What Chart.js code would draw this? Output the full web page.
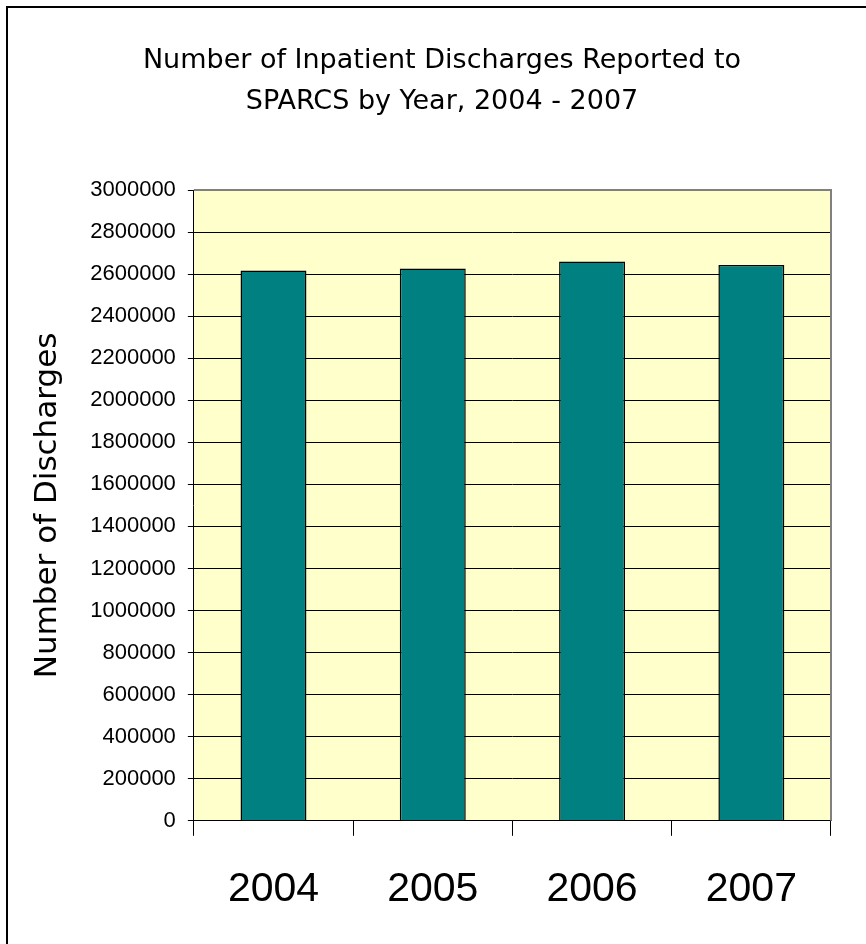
<!DOCTYPE html>
<html>
<head>
<meta charset="utf-8">
<script src="https://cdn.jsdelivr.net/npm/chart.js@4"></script>
<style>
  html, body { margin: 0; padding: 0; background: #fff; }
  #wrap { width: 866px; height: 944px; position: relative; }
</style>
</head>
<body>
<div id="wrap"><canvas id="myChart"></canvas></div>
<script>
var years = ['2004', '2005', '2006', '2007'];
var discharges = [2617000, 2627000, 2660000, 2643000];
var yTicks = [0, 200000, 400000, 600000, 800000, 1000000, 1200000, 1400000, 1600000,
              1800000, 2000000, 2200000, 2400000, 2600000, 2800000, 3000000];
var titleLines = ['Number of Inpatient Discharges Reported to', 'SPARCS by Year, 2004 - 2007'];

// plot background, outer frame and the (off-centre) chart title
var decor = {
    id: 'decor',
    beforeDraw: function(chart) {
        var c = chart.ctx, a = chart.chartArea;
        c.save();
        c.fillStyle = '#ffffcc';
        c.fillRect(a.left, a.top, a.right - a.left, a.bottom - a.top);
        c.strokeStyle = '#000';
        c.lineWidth = 2;
        c.strokeRect(7, 7, 900, 1000);
        c.fillStyle = '#000';
        c.font = '27px "DejaVu Sans"';
        c.textAlign = 'center';
        c.textBaseline = 'middle';
        c.fillText(titleLines[0], 442, 61);
        c.fillText(titleLines[1], 442, 102);
        c.restore();
    },
    afterDatasetsDraw: function(chart) {
        var c = chart.ctx, a = chart.chartArea;
        c.save();
        c.strokeStyle = '#808080';
        c.lineWidth = 2;
        c.beginPath();
        c.moveTo(a.left, a.top);
        c.lineTo(a.right, a.top);
        c.lineTo(a.right, a.bottom);
        c.stroke();
        c.restore();
    }
};

var ctx = document.getElementById('myChart');
var myChart = new Chart(ctx, {
    type: 'bar',
    data: {
        labels: years,
        datasets: [{
            label: 'Discharges',
            data: discharges,
            backgroundColor: '#008080',
            borderColor: '#000',
            borderWidth: 1.5,
            categoryPercentage: 1,
            barPercentage: 0.414
        }]
    },
    options: {
        responsive: true,
        maintainAspectRatio: false,
        animation: false,
        layout: {
            padding: {left: 29, right: 35, top: 190, bottom: 0}
        },
        plugins: {
            legend: {display: false},
            tooltip: {enabled: false},
            title: {display: false}
        },
        scales: {
            x: {
                offset: true,
                grid: {
                    offset: true,
                    drawOnChartArea: false,
                    color: '#000',
                    tickLength: 15,
                    tickColor: '#000'
                },
                border: {color: '#000', width: 1},
                ticks: {
                    color: '#000',
                    padding: 34,
                    font: {family: 'Liberation Sans', size: 41, lineHeight: 0.98}
                }
            },
            y: {
                min: 0,
                max: 3000000,
                afterBuildTicks: function(axis) {
                    axis.ticks = yTicks.map(function(v) { return {value: v}; });
                },
                grid: {
                    color: '#000',
                    lineWidth: 1,
                    tickLength: 6,
                    tickColor: '#000'
                },
                border: {color: '#000', width: 1},
                ticks: {
                    color: '#000',
                    padding: 12,
                    font: {family: 'Liberation Sans', size: 22},
                    callback: function(v) { return String(v); }
                },
                title: {
                    display: true,
                    text: 'Number of Discharges',
                    color: '#000',
                    font: {family: 'DejaVu Sans', size: 31},
                    padding: {top: 0, bottom: 12}
                }
            }
        }
    },
    plugins: [decor]
});
</script>
</body>
</html>
